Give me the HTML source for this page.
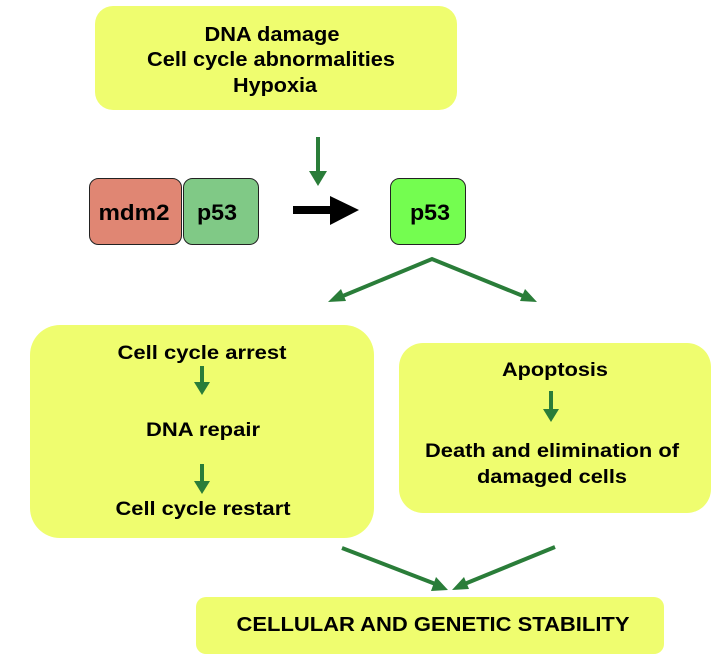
<!DOCTYPE html>
<html><head><meta charset="utf-8"><style>
html,body{margin:0;padding:0;background:#fff;}
svg{display:block;font-family:"Liberation Sans",Arial,sans-serif;font-weight:bold;}
</style></head><body>
<svg width="725" height="663" viewBox="0 0 725 663">
<rect x="95" y="6" width="362" height="104" rx="18" fill="#effd6f"/>
<g font-size="20" text-anchor="middle" fill="#000">
<text x="272" y="41" textLength="135" lengthAdjust="spacingAndGlyphs">DNA damage</text>
<text x="271" y="66" textLength="248" lengthAdjust="spacingAndGlyphs">Cell cycle abnormalities</text>
<text x="275" y="92" textLength="84" lengthAdjust="spacingAndGlyphs">Hypoxia</text>
</g>
<line x1="318" y1="137" x2="318" y2="174" stroke="#2a7d39" stroke-width="4"/>
<path d="M309,171 L327,171 L318,186 z" fill="#2a7d39"/>
<rect x="89.5" y="178.5" width="92" height="66" rx="9" fill="#e08673" stroke="#222"/>
<rect x="183.5" y="178.5" width="75" height="66" rx="9" fill="#80c986" stroke="#222"/>
<rect x="390.5" y="178.5" width="75" height="66" rx="9" fill="#74fd50" stroke="#222"/>
<g font-size="22" text-anchor="middle">
<text x="134" y="220" textLength="71" lengthAdjust="spacingAndGlyphs">mdm2</text>
<text x="217" y="220" textLength="40" lengthAdjust="spacingAndGlyphs">p53</text>
<text x="430" y="220" textLength="40" lengthAdjust="spacingAndGlyphs">p53</text>
</g>
<rect x="293" y="206" width="40" height="8" fill="#000"/>
<path d="M330,196 L359,210 L330,225 z" fill="#000"/>
<polyline points="338,298 432,259 528,298" stroke="#2a7d39" stroke-width="4" fill="none"/>
<path d="M328,302 L341,289 L346,301 z" fill="#2a7d39"/>
<path d="M537,302 L520,301 L525,289 z" fill="#2a7d39"/>
<rect x="30" y="325" width="344" height="213" rx="30" fill="#effd6f"/>
<rect x="399" y="343" width="312" height="170" rx="24" fill="#effd6f"/>
<g font-size="19" text-anchor="middle">
<text x="202" y="359" textLength="169" lengthAdjust="spacingAndGlyphs">Cell cycle arrest</text>
<text x="203" y="436" textLength="114" lengthAdjust="spacingAndGlyphs">DNA repair</text>
<text x="203" y="515" textLength="175" lengthAdjust="spacingAndGlyphs">Cell cycle restart</text>
<text x="555" y="376" textLength="106" lengthAdjust="spacingAndGlyphs">Apoptosis</text>
<text x="552" y="457" textLength="254" lengthAdjust="spacingAndGlyphs">Death and elimination of</text>
<text x="552" y="483" textLength="150" lengthAdjust="spacingAndGlyphs">damaged cells</text>
</g>
<g fill="#2a7d39">
<rect x="200" y="366" width="4" height="18"/><path d="M194,382 L210,382 L202,395 z"/>
<rect x="200" y="464" width="4" height="18"/><path d="M194,481 L210,481 L202,494 z"/>
<rect x="549" y="391" width="4" height="20"/><path d="M543,409 L559,409 L551,422 z"/>
</g>
<g stroke="#2a7d39" stroke-width="4">
<line x1="342" y1="548" x2="438" y2="585"/>
<line x1="555" y1="547" x2="462" y2="585"/>
</g>
<path d="M448,590 L431,591 L436,577 z" fill="#2a7d39"/>
<path d="M452,590 L464,577 L469,589 z" fill="#2a7d39"/>
<rect x="196" y="597" width="468" height="57" rx="10" fill="#effd6f"/>
<text x="433" y="631" font-size="20" text-anchor="middle" textLength="393" lengthAdjust="spacingAndGlyphs">CELLULAR AND GENETIC STABILITY</text>
</svg>
</body></html>
